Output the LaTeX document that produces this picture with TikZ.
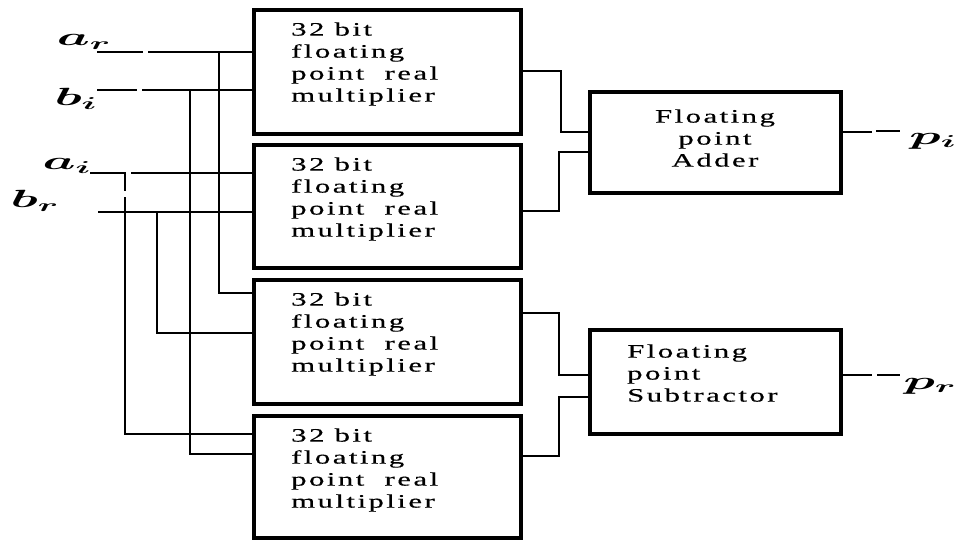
\documentclass[tikz,border=0pt]{standalone}
\usepackage{graphicx}
\usepackage{fontspec}
\setmainfont{Liberation Serif}[LetterSpace=8,FakeBold=0.3]
\usetikzlibrary{calc}
\newcommand{\stxt}[2]{\scalebox{1.62}[1]{\begin{tabular}{@{}#1@{}}#2\end{tabular}}}
\begin{document}
\begin{tikzpicture}[x=1pt,y=-1pt,
  box/.style={draw, line width=3.4pt, anchor=north west, inner sep=0pt, outer sep=0pt},
  mbox/.style={box, minimum width=267pt, minimum height=124pt},
  obox/.style={box, minimum width=251pt},
  wire/.style={line width=2.9pt},
  txt/.style={inner sep=0pt, font=\fontsize{19}{22}\selectfont},
  lbl/.style={inner sep=0pt, font=\fontsize{27}{27}\selectfont\boldmath}]
\useasboundingbox (0,0) rectangle (960,540);
% multiplier boxes
\node[mbox] (m1) at (254,10) {};
\node[mbox, minimum height=123pt] (m2) at (254,145) {};
\node[mbox] (m3) at (254,280) {};
\node[mbox, minimum height=122pt] (m4) at (254,416) {};
\foreach \n/\t in {m1/10,m2/145,m3/280,m4/416}{
  \node[txt, anchor=north west] (\n t) at (291,\t+10) {\stxt{l}{32 bit\\floating\\point\ \ real\\multiplier}};
}
% adder / subtractor
\node[obox, minimum height=101pt] (add) at (590,92) {};
\node[obox, minimum height=104pt] (sub) at (590,330) {};
\node[txt, anchor=north] (addt) at (715,107) {\stxt{c}{Floating\\point\\Adder}};
\node[txt, anchor=north west] (subt) at (627,342) {\stxt{l}{Floating\\point\\Subtractor}};
% input labels
\node[lbl] (lar) at (84,42) {\scalebox{2.1}[1]{$a_r$}};
\node[lbl] (lbi) at (76,99) {\scalebox{2.1}[1]{$b_i$}};
\node[lbl] (lai) at (67,166) {\scalebox{2.1}[1]{$a_i$}};
\node[lbl] (lbr) at (35,201) {\scalebox{2.1}[1]{$b_r$}};
\node[lbl] (lpi) at (933,141) {\scalebox{2.1}[1]{$p_i$}};
\node[lbl] (lpr) at (930,386) {\scalebox{2.1}[1]{$p_r$}};
% input coordinates
\coordinate (ar0) at (97,52);  \coordinate (ar1) at (143,52); \coordinate (ar2) at (148,52);
\coordinate (bi0) at (97,90);  \coordinate (bi1) at (137,90); \coordinate (bi2) at (142,90);
\coordinate (ai0) at (90,173); \coordinate (ai1) at (125,173); \coordinate (ai2) at (131,173);
\coordinate (br0) at (98,212);
\coordinate (vA) at (219,52);  % a_r bus
\coordinate (vB) at (190,90);  % b_i bus
\coordinate (vC) at (125,197); % a_i bus
\coordinate (vD) at (157,212); % b_r bus
% a_r
\draw[wire] (ar0) -- (ar1);
\draw[wire] (ar2) -- (m1.west |- ar2);
\draw[wire] (vA) -- (vA |- 0,293) -- (m3.west |- 0,293);
% b_i
\draw[wire] (bi0) -- (bi1);
\draw[wire] (bi2) -- (m1.west |- bi2);
\draw[wire] (vB) -- (vB |- 0,454) -- (m4.west |- 0,454);
% a_i
\draw[wire] (ai0) -- (ai1) -- (125,191);
\draw[wire] (ai2) -- (m2.west |- ai2);
\draw[wire] (vC) -- (vC |- 0,434) -- (m4.west |- 0,434);
% b_r
\draw[wire] (br0) -- (m2.west |- br0);
\draw[wire] (vD) -- (vD |- 0,333) -- (m3.west |- 0,333);
% multiplier outputs
\draw[wire] (m1.east |- 0,71) -- (561,71) -- (561,132) -- (add.west |- 0,132);
\draw[wire] (m2.east |- 0,211) -- (559,211) -- (559,152) -- (add.west |- 0,152);
\draw[wire] (m3.east |- 0,313) -- (559,313) -- (559,375) -- (sub.west |- 0,375);
\draw[wire] (m4.east |- 0,456) -- (559,456) -- (559,397) -- (sub.west |- 0,397);
% outputs
\coordinate (pi1) at (872,132); \coordinate (pi2) at (876,131); \coordinate (pi3) at (900,131);
\coordinate (pr1) at (872,375); \coordinate (pr2) at (877,375); \coordinate (pr3) at (900,375);
\draw[wire] (add.east |- pi1) -- (pi1);
\draw[wire] (pi2) -- (pi3);
\draw[wire] (sub.east |- pr1) -- (pr1);
\draw[wire] (pr2) -- (pr3);
\end{tikzpicture}
\end{document}
